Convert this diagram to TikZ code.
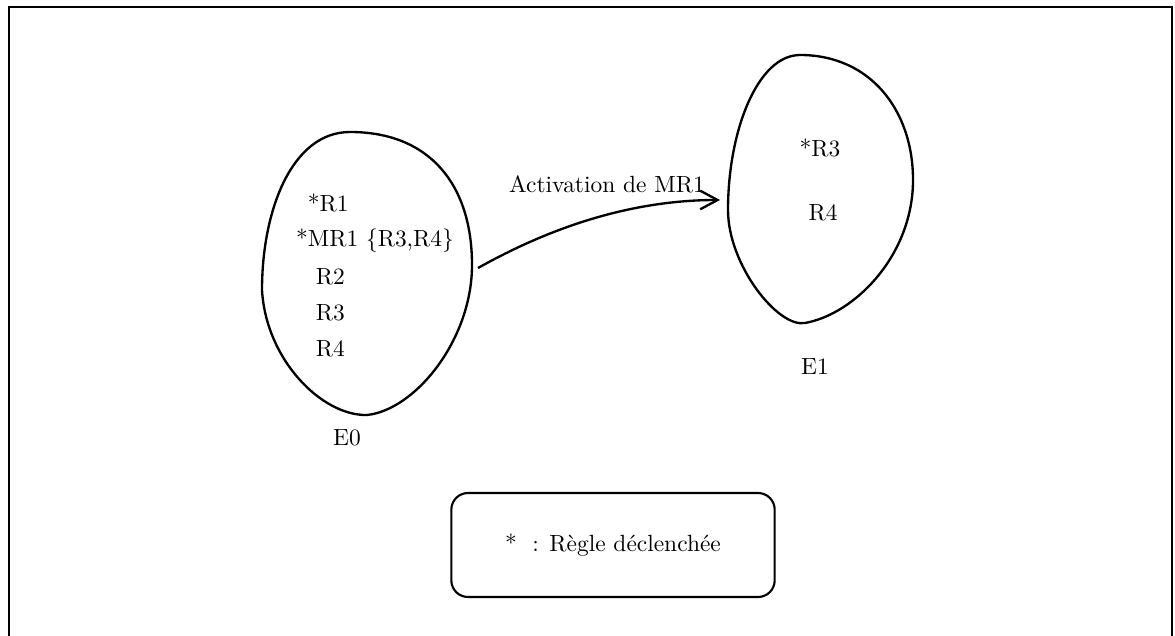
\documentclass[tikz,border=0pt]{standalone}
\usepackage{tikz}
\usetikzlibrary{arrows.meta, positioning}

\begin{document}
\begin{tikzpicture}[
        x=0.015cm, y=-0.015cm,
        blob/.style={draw, line width=1pt},
        rule/.style={inner sep=1pt, font=\normalsize},
        legendbox/.style={rectangle, draw, line width=0.9pt, rounded corners=0.25cm,
                          minimum width=4.85cm, minimum height=1.56cm, align=center},
        arrow/.style={draw, line width=1pt, -{Straight Barb[length=2.6mm, width=2.8mm, line width=1pt]}}
    ]
        \useasboundingbox (0,0) rectangle (1175,636);
        % frame
        \draw [line width=0.6pt] (9,636) -- (9,7) -- (1172,7) -- (1172,636);
        % state E0
        \draw [blob] (350,132) .. controls (430,132) and (472,185) .. (472,265)
            .. controls (472,340) and (415,410) .. (367,415)
            .. controls (322,416) and (266,360) .. (262,290)
            .. controls (262,210) and (292,132) .. (350,132) -- cycle;
        \node [rule, anchor=west] (r1e0)  at (305,203) {*R1};
        \node [rule] (mr1) at (375,241) {*MR1 $\{$R3,R4$\}$};
        \node [rule, anchor=west] (r2e0)  at (313,277) {R2};
        \node [rule, anchor=west] (r3e0)  at (313,313) {R3};
        \node [rule, anchor=west] (r4e0)  at (313,349) {R4};
        \node [rule] (e0) at (347,438) {E0};
        % state E1
        \draw [blob] (800,55) .. controls (870,55) and (913,110) .. (913,180)
            .. controls (913,255) and (855,314) .. (805,323)
            .. controls (778,328) and (728,265) .. (728,210)
            .. controls (728,130) and (758,55) .. (800,55) -- cycle;
        \node [rule] (r3e1) at (820,148) {*R3};
        \node [rule] (r4e1) at (823,213) {R4};
        \node [rule] (e1) at (815,367) {E1};
        % transition
        \coordinate (e0out) at (478,268);
        \coordinate (e1in)  at (720,200);
        \path [arrow] (e0out) .. controls (560,222) and (640,200) .. (e1in);
        \node [rule] (act) at (607,184) {Activation de MR1};
        % legend
        \node [legendbox] (legend) at (613,545) {*\ \ : Règle déclenchée};
    \end{tikzpicture}
\end{document}
